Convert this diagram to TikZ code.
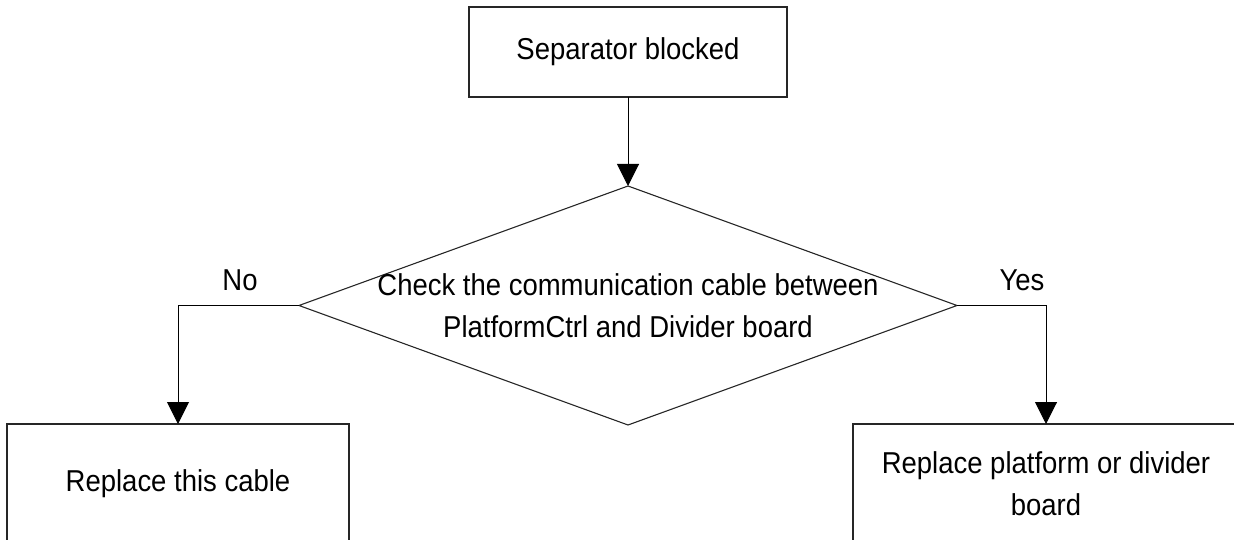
\documentclass[tikz,border=0pt]{standalone}
\usepackage{fontspec}
\setmainfont{Liberation Sans}[FakeStretch=0.91]
\usetikzlibrary{shapes.geometric,arrows.meta}
\begin{document}
\begin{tikzpicture}[x=1pt,y=-1pt,
  every node/.style={font=\fontsize{30.2}{42}\selectfont, text=black},
  boxnode/.style={draw=black!85, line width=1.2pt, rectangle, inner sep=0pt, outer sep=0pt},
  dianode/.style={draw=black!85, line width=1.1pt, diamond, inner sep=0pt, outer sep=0pt, minimum width=658pt, minimum height=239pt},
  txt/.style={align=center, inner sep=0pt},
  arr/.style={draw=black, line width=1pt, -{Triangle[width=22pt,length=22pt]}}
]
\useasboundingbox (0,0) rectangle (1234,540);
\node[boxnode, minimum width=318pt, minimum height=90pt] (top) at (628,52) {Separator blocked};
\node[dianode] (dec) at (628,305.5) {};
\node[txt] (dectext) at (628,306) {Check the communication cable between\\PlatformCtrl and Divider board};
\node[boxnode, minimum width=342pt, minimum height=120pt] (lbox) at (178,484) {Replace this cable};
\node[boxnode, minimum width=386pt, minimum height=120pt, align=center] (rbox) at (1046,484) {Replace platform or divider\\board};
\draw[arr] (top.south) -- (dec.north);
\draw[arr] (dec.west) -| (lbox.north);
\draw[arr] (dec.east) -| (rbox.north);
\node[txt] (no) at (240,280) {No};
\node[txt] (yes) at (1022,280) {Yes};
\end{tikzpicture}
\end{document}
